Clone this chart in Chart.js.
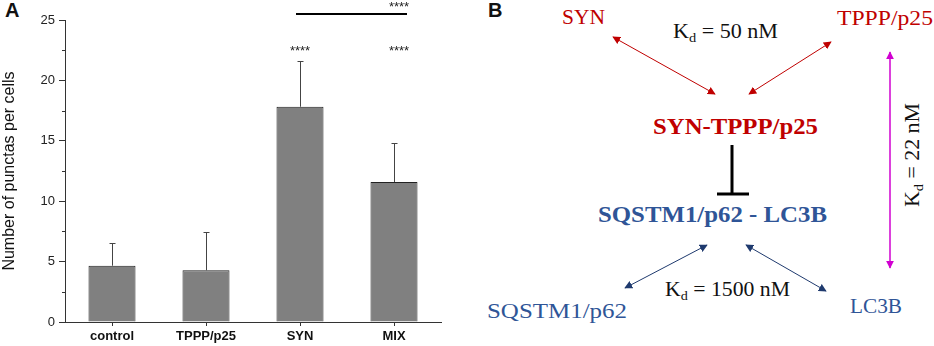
<!DOCTYPE html>
<html>
<head>
<meta charset="utf-8">
<script src="https://cdn.jsdelivr.net/npm/chart.js@4.4.0/dist/chart.umd.min.js"></script>
<style>
  body { margin: 0; background: #fff; width: 934px; height: 346px; overflow: hidden; position: relative; font-family: "Liberation Sans", Arial, sans-serif; }
  #wrapA { position: absolute; left: 0; top: 0; width: 470px; height: 346px; }
  #panelB { position: absolute; left: 470px; top: 0; }
  .panel-label { position: absolute; font-weight: bold; font-size: 20px; color: #111; }
  svg text { font-family: "Liberation Serif", "Times New Roman", serif; }
</style>
</head>
<body>
<div class="panel-label" style="left:5px;top:-1px">A</div>
<div class="panel-label" style="left:488px;top:-1px">B</div>
<div id="wrapA"><canvas id="chartA" width="470" height="346"></canvas></div>

<svg id="panelB" width="464" height="346" viewBox="0 0 464 346">
  <defs>
    <marker id="arRed" viewBox="0 0 10 10" refX="9" refY="5" markerWidth="8" markerHeight="8" orient="auto-start-reverse" markerUnits="userSpaceOnUse">
      <path d="M0,0 L10,5 L0,10 z" fill="#c00000"/>
    </marker>
    <marker id="arBlue" viewBox="0 0 10 10" refX="9" refY="5" markerWidth="8" markerHeight="8" orient="auto-start-reverse" markerUnits="userSpaceOnUse">
      <path d="M0,0 L10,5 L0,10 z" fill="#1f3a6e"/>
    </marker>
    <marker id="arMag" viewBox="0 0 10 10" refX="9" refY="5" markerWidth="8" markerHeight="8" orient="auto-start-reverse" markerUnits="userSpaceOnUse">
      <path d="M0,0 L10,5 L0,10 z" fill="#d100d1"/>
    </marker>
  </defs>

  <!-- top: SYN + TPPP/p25 -->
  <text x="92" y="24" font-size="21" fill="#c00000" textLength="43" lengthAdjust="spacingAndGlyphs">SYN</text>
  <text x="367" y="25" font-size="20" fill="#c00000" textLength="96" lengthAdjust="spacingAndGlyphs">TPPP/p25</text>
  <text x="203" y="38" font-size="20" fill="#111" textLength="105" lengthAdjust="spacingAndGlyphs">K<tspan font-size="13" dy="4">d</tspan><tspan dy="-4"> = 50 nM</tspan></text>
  <line x1="143" y1="37" x2="245" y2="94" stroke="#c00000" stroke-width="1" marker-start="url(#arRed)" marker-end="url(#arRed)"/>
  <line x1="361" y1="42" x2="279" y2="94" stroke="#c00000" stroke-width="1" marker-start="url(#arRed)" marker-end="url(#arRed)"/>
  <text x="183" y="134" font-size="23" font-weight="bold" fill="#c00000" textLength="165" lengthAdjust="spacingAndGlyphs">SYN-TPPP/p25</text>

  <!-- inhibition -->
  <line x1="262" y1="145" x2="262" y2="194" stroke="#000" stroke-width="3"/>
  <line x1="247" y1="194" x2="279" y2="194" stroke="#000" stroke-width="3"/>

  <!-- bottom: SQSTM1/p62 + LC3B -->
  <text x="128" y="222" font-size="23" font-weight="bold" fill="#2f5597" textLength="229" lengthAdjust="spacingAndGlyphs">SQSTM1/p62 - LC3B</text>
  <line x1="155" y1="288" x2="237" y2="245" stroke="#1f3a6e" stroke-width="1" marker-start="url(#arBlue)" marker-end="url(#arBlue)"/>
  <line x1="276" y1="245" x2="356" y2="291" stroke="#1f3a6e" stroke-width="1" marker-start="url(#arBlue)" marker-end="url(#arBlue)"/>
  <text x="195" y="296" font-size="20" fill="#111" textLength="125" lengthAdjust="spacingAndGlyphs">K<tspan font-size="13" dy="4">d</tspan><tspan dy="-4"> = 1500 nM</tspan></text>
  <text x="17" y="318" font-size="22" fill="#2f5597" textLength="140" lengthAdjust="spacingAndGlyphs">SQSTM1/p62</text>
  <text x="380" y="313" font-size="21" fill="#2f5597" textLength="52" lengthAdjust="spacingAndGlyphs">LC3B</text>

  <!-- magenta link -->
  <line x1="420" y1="52" x2="420" y2="268" stroke="#d100d1" stroke-width="1.5" marker-start="url(#arMag)" marker-end="url(#arMag)"/>
  <text transform="translate(449,207) rotate(-90)" font-size="20" fill="#111" textLength="104" lengthAdjust="spacingAndGlyphs">K<tspan font-size="13" dy="4">d</tspan><tspan dy="-4"> = 22 nM</tspan></text>
</svg>

<script>
// panel A data
const categories = ["control", "TPPP/p25", "SYN", "MIX"];
const means = [4.66, 4.28, 17.82, 11.59];
const errorsUp = [1.85, 3.14, 3.75, 3.25];
const yTicks = [0, 5, 10, 15, 20, 25];
const minorTicks = [2.5, 7.5, 12.5, 17.5, 22.5];
const starsOver = ["", "", "****", "****"];
const starLevel = 22.1;
const bracketLevel = 25.5;
const bracketStarLevel = 25.75;

const errorBars = {
  id: "errorBars",
  afterDatasetsDraw(chart) {
    const { ctx, scales: { x, y } } = chart;
    ctx.save();
    ctx.strokeStyle = "#444";
    ctx.lineWidth = 1;
    means.forEach((m, i) => {
      const px = Math.round(x.getPixelForValue(i)) + 0.5;
      const base = y.getPixelForValue(m);
      const top = Math.round(y.getPixelForValue(m + errorsUp[i])) + 0.5;
      ctx.beginPath();
      ctx.moveTo(px, base);
      ctx.lineTo(px, top);
      ctx.moveTo(px - 3, top);
      ctx.lineTo(px + 3, top);
      ctx.stroke();
    });
    ctx.restore();
  }
};

const extras = {
  id: "extras",
  afterDraw(chart) {
    const { ctx, scales: { x, y } } = chart;
    ctx.save();
    // minor ticks on y axis
    ctx.strokeStyle = "#333";
    ctx.lineWidth = 1;
    minorTicks.forEach((v) => {
      const py = Math.round(y.getPixelForValue(v)) + 0.5;
      ctx.beginPath();
      ctx.moveTo(y.right - 3, py);
      ctx.lineTo(y.right, py);
      ctx.stroke();
    });
    // significance stars
    ctx.fillStyle = "#222";
    ctx.font = "13px 'Liberation Sans', Arial, sans-serif";
    ctx.textAlign = "center";
    ctx.textBaseline = "alphabetic";
    starsOver.forEach((s, i) => {
      if (s) ctx.fillText(s, x.getPixelForValue(i) + (i === 3 ? 5 : 0), y.getPixelForValue(starLevel));
    });
    // bracket SYN vs MIX
    const by = Math.round(y.getPixelForValue(bracketLevel));
    ctx.strokeStyle = "#000";
    ctx.lineWidth = 2;
    ctx.beginPath();
    ctx.moveTo(x.getPixelForValue(2) - 4, by);
    ctx.lineTo(x.getPixelForValue(3) + 13, by);
    ctx.stroke();
    ctx.fillText("****", x.getPixelForValue(3) + 5, y.getPixelForValue(bracketStarLevel));
    ctx.restore();
  }
};

new Chart(document.getElementById("chartA"), {
  type: "bar",
  data: {
    labels: categories,
    datasets: [{
      data: means,
      backgroundColor: "#808080",
      borderColor: "#222",
      borderWidth: 1,
      barPercentage: 0.5,
      categoryPercentage: 1.0
    }]
  },
  options: {
    responsive: false,
    animation: false,
    devicePixelRatio: 1,
    layout: { padding: { top: 20, right: 29, left: 0, bottom: 0 } },
    plugins: { legend: { display: false }, tooltip: { enabled: false } },
    scales: {
      x: {
        offset: true,
        grid: { offset: false, drawOnChartArea: false, tickLength: 4, color: "#333" },
        border: { color: "#333", width: 1 },
        ticks: { color: "#111", font: { family: "'Liberation Sans', Arial", size: 13, weight: "bold" }, padding: 3 },
        afterFit(scale) { scale.height = 24; }
      },
      y: {
        min: 0,
        max: 25,
        afterBuildTicks(scale) { scale.ticks = yTicks.map((v) => ({ value: v })); },
        grid: { drawOnChartArea: false, tickLength: 6, color: "#333" },
        border: { color: "#333", width: 1 },
        ticks: { color: "#222", font: { family: "'Liberation Sans', Arial", size: 13 }, padding: 4 },
        title: { display: true, text: "Number of punctas per cells", color: "#111", font: { family: "'Liberation Sans', Arial", size: 16 }, padding: 0 },
        afterFit(scale) { scale.width = 65; }
      }
    }
  },
  plugins: [errorBars, extras]
});
</script>
</body>
</html>
